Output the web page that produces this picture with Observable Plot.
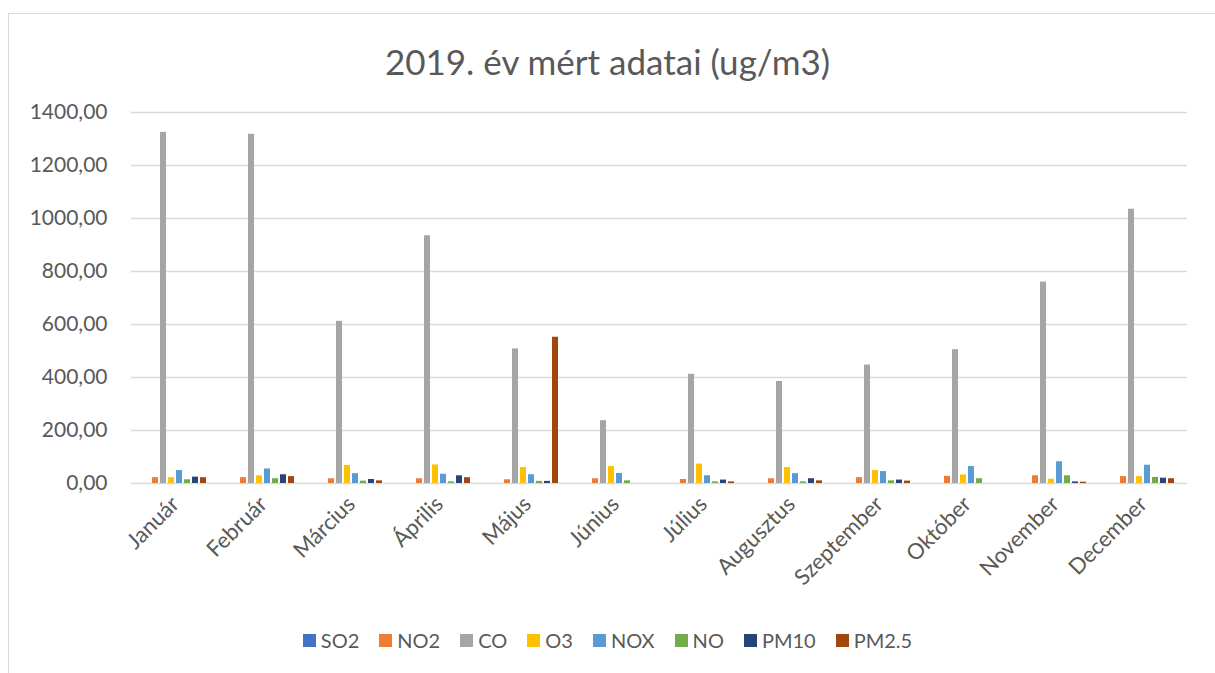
<!DOCTYPE html>
<html>
<head>
<meta charset="utf-8">
<script src="https://cdn.jsdelivr.net/npm/d3@7"></script>
<script src="https://cdn.jsdelivr.net/npm/@observablehq/plot@0.6"></script>
<style>
  body { margin: 0; background: #fff; width: 1215px; height: 673px; overflow: hidden; position: relative; font-family: Lato, "Open Sans", sans-serif; }
  #frame { position: absolute; left: 8px; top: 13px; width: 1220px; height: 670px; border: 1.5px solid #d9d9d9; box-sizing: border-box; }
  #title { position: absolute; left: 0; width: 1215px; top: 44px; line-height: 1; text-align: center; font-size: 35px; color: #595959; }
  #chart { position: absolute; left: 0; top: 0; }
  #legend { position: absolute; left: 0; width: 1215px; top: 628px; display: flex; justify-content: center; gap: 20px; font-size: 20px; line-height: 24px; color: #595959; }
  #legend span.item { display: flex; align-items: center; gap: 5px; }
  #legend span.sw { width: 13px; height: 13px; display: inline-block; }
</style>
</head>
<body>
<div id="frame"></div>
<div id="title">2019. év mért adatai (ug/m3)</div>
<div id="chart"></div>
<div id="legend"></div>
<script>
const months = ["Január","Február","Március","Április","Május","Június","Július","Augusztus","Szeptember","Október","November","December"];
const seriesNames = ["SO2","NO2","CO","O3","NOX","NO","PM10","PM2.5"];
const colors = ["#4472C4","#ED7D31","#A5A5A5","#FFC000","#5B9BD5","#70AD47","#264478","#9E480E"];
const yTicks = [0,200,400,600,800,1000,1200,1400];

const SO2  = [0,0,0,0,0,0,0,0,0,0,0,0];
const NO2  = [22,22,18,18,14,18,15,18,22,27,29,26];
const CO   = [1325,1318,612,935,508,237,412,385,447,505,760,1035];
const O3   = [22,29,68,70,60,64,73,60,49,32,16,26];
const NOX  = [49,55,37,35,33,38,29,37,45,64,82,69];
const NO   = [14,18,9,6,8,10,6,6,10,18,29,23];
const PM10 = [24,33,15,29,8,0,13,18,13,0,6,20];
const PM25 = [22,26,10,22,552,0,6,10,9,0,5,18];

const seriesValues = [SO2, NO2, CO, O3, NOX, NO, PM10, PM25];
const data = [];
months.forEach((m, i) => {
  seriesNames.forEach((s, j) => data.push({month: m, series: s, value: seriesValues[j][i]}));
});

const fmt = d => d.toFixed(2).replace(".", ",");

const plot = Plot.plot({
  width: 1215,
  height: 610,
  marginTop: 112,
  marginBottom: 127,
  marginLeft: 128,
  marginRight: 25,
  style: {fontFamily: "Lato, 'Open Sans', sans-serif", fontSize: "16px", color: "#595959", background: "transparent"},
  fx: {domain: months, paddingInner: 0, paddingOuter: 0, label: null},
  x: {domain: seriesNames, paddingInner: 0.19, paddingOuter: 1.01, axis: null},
  y: {domain: [0, 1400], label: null, axis: null},
  color: {domain: seriesNames, range: colors},
  marks: [
    Plot.ruleY(yTicks, {stroke: "#d9d9d9", strokeWidth: 1.3}),
    Plot.barY(data, {fx: "month", x: "series", y: "value", fill: "series", inset: 0}),
    Plot.axisY({ticks: yTicks, tickFormat: fmt, tickSize: 0, tickPadding: 24, label: null, fontSize: 21, fill: "#595959"}),
    Plot.axisFx({anchor: "bottom", tickRotate: -45, tickSize: 0, tickPadding: 17, label: null, fontSize: 22, fill: "#595959"})
  ]
});
document.getElementById("chart").appendChild(plot);

const legend = document.getElementById("legend");
seriesNames.forEach((s, j) => {
  const item = document.createElement("span");
  item.className = "item";
  const sw = document.createElement("span");
  sw.className = "sw";
  sw.style.background = colors[j];
  item.appendChild(sw);
  item.appendChild(document.createTextNode(s));
  legend.appendChild(item);
});
</script>
</body>
</html>
